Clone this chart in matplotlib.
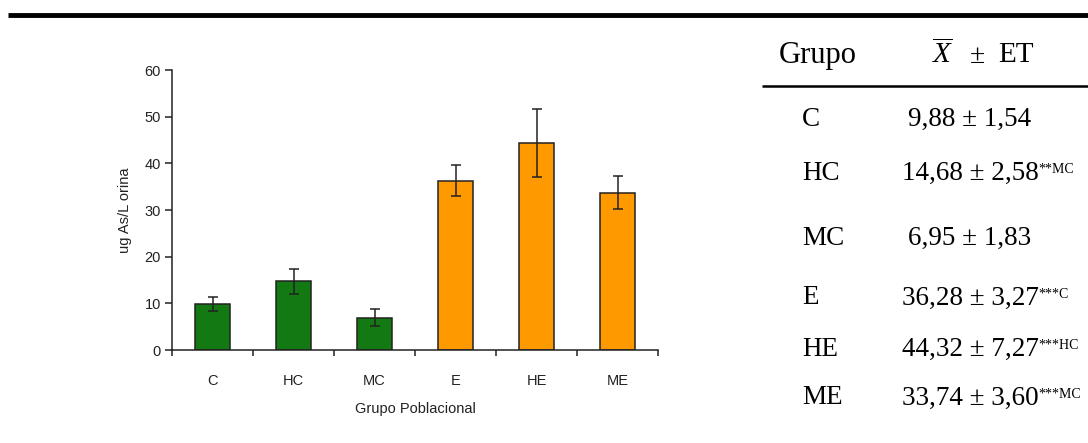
import matplotlib
matplotlib.use("Agg")
import matplotlib.pyplot as plt
import numpy as np

groups = ["C", "HC", "MC", "E", "HE", "ME"]
means = [9.88, 14.68, 6.95, 36.28, 44.32, 33.74]
errors = [1.54, 2.58, 1.83, 3.27, 7.27, 3.60]
signif = ["", "**MC", "", "***C", "***HC", "***MC"]
bar_colors = ["#137a13", "#137a13", "#137a13", "#ff9900", "#ff9900", "#ff9900"]
yticks = [0, 10, 20, 30, 40, 50, 60]

plt.rcParams["mathtext.fontset"] = "custom"
plt.rcParams["mathtext.rm"] = "Liberation Serif"
plt.rcParams["mathtext.it"] = "Liberation Serif:italic"

W, H = 1088, 443
fig = plt.figure(figsize=(W / 100, H / 100), dpi=100)

# bar chart, placed in pixel terms
x0, x1, y0, y1 = 172, 658, 350, 70
ax = fig.add_axes([x0 / W, 1 - y0 / H, (x1 - x0) / W, (y0 - y1) / H])
pos = np.arange(len(groups)) + 0.5
ax.bar(pos, means, width=0.42, color=bar_colors, edgecolor="#222222", linewidth=1.1, zorder=2)
ax.errorbar(pos, means, yerr=errors, fmt="none", ecolor="#222222", elinewidth=1.1,
            capsize=3.5, capthick=1.1, zorder=3)
ax.set_xlim(0, len(groups))
ax.set_ylim(0, 60)
ax.set_yticks(yticks)
ax.set_xticks(np.arange(len(groups) + 1))
ax.set_xticklabels([])
ax.set_xticks(pos, minor=True)
ax.set_xticklabels(groups, minor=True, fontsize=10.5, family="Liberation Sans", color="#222222")
ax.tick_params(axis="x", which="minor", length=0, pad=17)
ax.tick_params(axis="x", which="major", direction="out", length=4, width=1.1, color="#222222")
ax.tick_params(axis="y", direction="out", length=5, width=1.1, pad=3, color="#222222",
               labelsize=10.5, labelcolor="#222222")
for lab in ax.get_yticklabels():
    lab.set_family("Liberation Sans")
for s in ("top", "right"):
    ax.spines[s].set_visible(False)
for s in ("left", "bottom"):
    ax.spines[s].set_linewidth(1.1)
    ax.spines[s].set_color("#222222")
ax.set_xlabel("Grupo Poblacional", fontsize=10.5, family="Liberation Sans", color="#222222", labelpad=10)
ax.set_ylabel("ug As/L orina", fontsize=10.5, family="Liberation Sans", color="#222222", labelpad=9)

# overlay in pixel coords for rules and table
ov = fig.add_axes([0, 0, 1, 1])
ov.set_xlim(0, W)
ov.set_ylim(H, 0)
ov.axis("off")
ov.plot([8, W], [15, 15], color="black", linewidth=3.5, solid_capstyle="butt")
ov.plot([762, W], [86, 86], color="black", linewidth=1.8, solid_capstyle="butt")

serif = "Liberation Serif"
ov.text(779, 55, "Grupo", fontsize=22, family=serif, ha="left", va="center")
ov.text(932, 55, r"$\overline{X}$", fontsize=21, family=serif, ha="left", va="center")
ov.text(977, 56, "±", fontsize=20, family=serif, ha="center", va="center")
ov.text(998, 55, "ET", fontsize=21, family=serif, ha="left", va="center")

row_y = [119, 173, 238, 298, 349, 398]
for g, m, e, s, y in zip(groups, means, errors, signif, row_y):
    ov.text(802, y, g, fontsize=19.5, family=serif, ha="left", va="center")
    main = f"{m:.2f} ± {e:.2f}".replace(".", ",")
    t = ov.text(970, y, main, fontsize=19.5, family=serif, ha="center", va="center")
    if s:
        ov.annotate(s, xy=(1, 0.9), xycoords=t, fontsize=10, family=serif,
                    ha="left", va="top")

fig.savefig("out.png", dpi=100)
